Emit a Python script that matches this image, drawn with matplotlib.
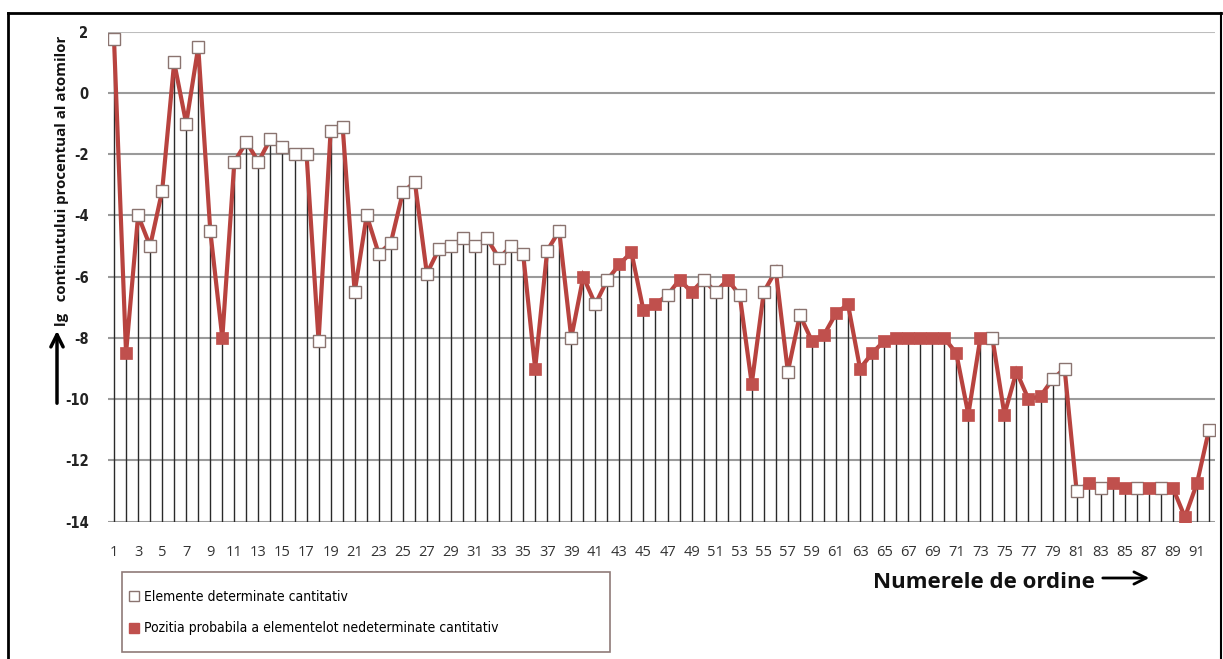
import matplotlib.pyplot as plt
from matplotlib.lines import Line2D
from matplotlib.patches import Rectangle, FancyArrowPatch
import numpy as np

# numerele de ordine ale elementelor
numere = np.arange(1, 93)

# lg al continutului procentual al atomilor
valori = [
    1.75, -8.5, -4.0, -5.0, -3.2, 1.0, -1.0, 1.5, -4.5, -8.0,
    -2.25, -1.6, -2.25, -1.5, -1.75, -2.0, -2.0, -8.1, -1.25, -1.1,
    -6.5, -4.0, -5.25, -4.9, -3.25, -2.9, -5.9, -5.1, -5.0, -4.75,
    -5.0, -4.75, -5.4, -5.0, -5.25, -9.0, -5.15, -4.5, -8.0, -6.0,
    -6.9, -6.1, -5.6, -5.2, -7.1, -6.9, -6.6, -6.1, -6.5, -6.1,
    -6.5, -6.1, -6.6, -9.5, -6.5, -5.8, -9.1, -7.25, -8.1, -7.9,
    -7.2, -6.9, -9.0, -8.5, -8.1, -8.0, -8.0, -8.0, -8.0, -8.0,
    -8.5, -10.5, -8.0, -8.0, -10.5, -9.1, -10.0, -9.9, -9.35, -9.0,
    -13.0, -12.75, -12.9, -12.75, -12.9, -12.9, -12.9, -12.9, -12.9, -13.85,
    -12.75, -11.0,
]

# elementele nedeterminate cantitativ (pozitie probabila)
nedeterminate = [2, 10, 36, 40, 43, 44, 45, 46, 48, 49, 52, 54, 59, 60, 61, 62,
                 63, 64, 65, 66, 67, 68, 69, 70, 71, 72, 73, 75, 76, 77, 78,
                 82, 84, 85, 87, 89, 90, 91]

etichete_y = [2, 0, -2, -4, -6, -8, -10, -12, -14]

valori = np.array(valori)
filled = np.isin(numere, nedeterminate)

rosu = '#b8433f'
rosu_marker = '#c0504d'
narrow = ['Liberation Sans Narrow', 'DejaVu Sans']

fig = plt.figure(figsize=(12.23, 6.59), dpi=100)
W, H = 1223, 659


def fx(px):
    return px / W


def fy(py):
    return 1 - py / H


ax = fig.add_axes([fx(108), fy(521.7), fx(1215) - fx(108), fy(31.7) - fy(521.7)])
ax.set_xlim(0.5, 92.5)
ax.set_ylim(-14, 2)

# liniile orizontale ale grilei
for v in etichete_y:
    ax.axhline(v, color='#bdbdbd' if v == 2 else '#9a9a9a', lw=1.5, zorder=1)

# liniile verticale de la fiecare punct pana jos
ax.vlines(numere, -14, valori, color='#2a2a2a', lw=1.0, zorder=2)

ax.plot(numere, valori, color=rosu, lw=3.0, zorder=3, solid_joinstyle='miter')
ax.plot(numere[~filled], valori[~filled], ls='none', marker='s', ms=8.5,
        mfc='white', mec='#8a7470', mew=1.0, zorder=4)
ax.plot(numere[filled], valori[filled], ls='none', marker='s', ms=8.5,
        mfc=rosu_marker, mec=rosu_marker, mew=0.5, zorder=4)

for s in ax.spines.values():
    s.set_visible(False)

ax.set_xticks(np.arange(1, 92, 2))
ax.set_xticklabels([str(n) for n in range(1, 92, 2)], fontsize=10.5,
                   color='#333333', family=['Open Sans', 'DejaVu Sans'])
ax.set_yticks(etichete_y)
ax.set_yticklabels([str(v) for v in etichete_y], fontsize=10.5,
                   family=narrow, fontweight='bold', fontstretch='condensed',
                   color='#222222')
ax.tick_params(axis='x', length=0, pad=17)
ax.tick_params(axis='y', length=0, pad=14)

# titlul axei y si sageata
fig.text(fx(62), fy(326), 'lg   continutului procentual al atomilor', rotation=90,
         rotation_mode='anchor', ha='left', va='center', fontsize=10.8,
         family=['Open Sans', 'DejaVu Sans'], fontweight='bold', color='#111111')
fig.add_artist(FancyArrowPatch((fx(57), fy(406)), (fx(57), fy(328)),
                               transform=fig.transFigure, arrowstyle='->',
                               mutation_scale=22, lw=2.5, color='black'))

# titlul axei x si sageata
fig.text(fx(873), fy(582), 'Numerele de ordine', ha='left', va='center',
         fontsize=16, family=['Open Sans', 'DejaVu Sans'], fontweight='bold',
         color='#111111')
fig.add_artist(FancyArrowPatch((fx(1100), fy(578)), (fx(1152), fy(578)),
                               transform=fig.transFigure, arrowstyle='->',
                               mutation_scale=22, lw=2.0, color='black'))

# legenda
fig.add_artist(Rectangle((fx(122), fy(652)), fx(610) - fx(122), fy(572) - fy(652),
                         transform=fig.transFigure, fill=False,
                         edgecolor='#8f7a78', lw=1.2))
handles = [
    Line2D([], [], ls='none', marker='s', ms=7, mfc='white', mec='#8a7470', mew=1.0),
    Line2D([], [], ls='none', marker='s', ms=7, mfc=rosu_marker, mec=rosu_marker),
]
fig.legend(handles, ['Elemente determinate cantitativ',
                     'Pozitia probabila a elementelot nedeterminate cantitativ'],
           loc='upper left', bbox_to_anchor=(fx(130), fy(590)), frameon=False,
           handlelength=0.6, handletextpad=0.4, labelspacing=1.25,
           borderaxespad=0, borderpad=0,
           prop={'family': narrow, 'size': 10, 'stretch': 'condensed'})

# chenarul figurii
fig.add_artist(Line2D([fx(8), fx(8)], [0, fy(13)], transform=fig.transFigure,
                      color='black', lw=2))
fig.add_artist(Line2D([fx(8), fx(1221)], [fy(13), fy(13)], transform=fig.transFigure,
                      color='black', lw=2))
fig.add_artist(Line2D([fx(1221), fx(1221)], [0, fy(13)], transform=fig.transFigure,
                      color='black', lw=1.5))

fig.savefig('out.png', dpi=100)
